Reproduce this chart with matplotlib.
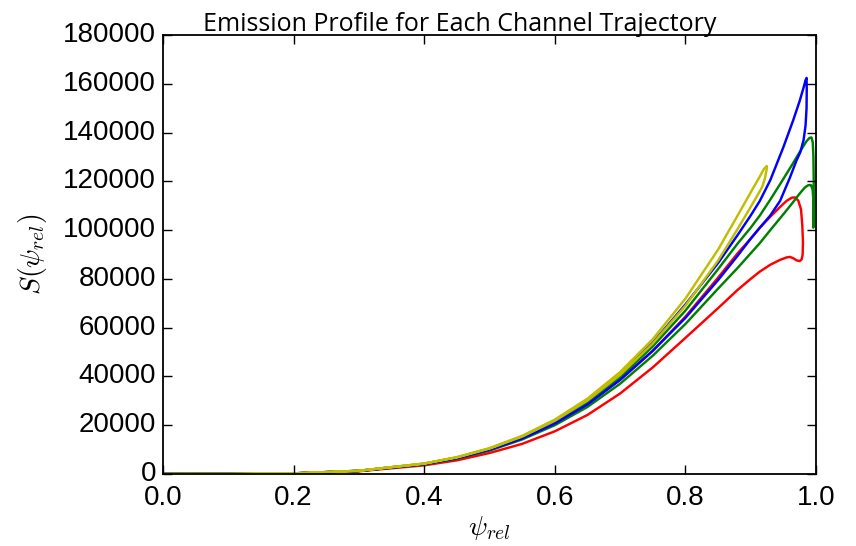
import matplotlib
matplotlib.use("Agg")
import matplotlib.pyplot as plt

plt.style.use("classic")
plt.rcParams["mathtext.fontset"] = "cm"

# each channel trajectory is a loop: out along one branch, back along the other
red_psi = [0, 0.1, 0.2, 0.3, 0.4, 0.45, 0.5, 0.55, 0.6, 0.65, 0.7, 0.75, 0.8, 0.85, 0.88, 0.9,
           0.914, 0.93, 0.945, 0.955, 0.963, 0.968, 0.973, 0.977, 0.979, 0.98,
           0.9795, 0.978, 0.975, 0.97, 0.965, 0.96, 0.955, 0.945, 0.93, 0.914,
           0.9, 0.88, 0.85, 0.8, 0.75, 0.7, 0.65, 0.6, 0.55, 0.5, 0.45, 0.4, 0.3, 0.2, 0.1, 0]
red_s = [0, 14, 245, 1270, 4050, 6470, 9900, 14630, 20800, 28700, 38600, 50500, 64500, 80500, 90500, 96500,
         101000, 105500, 109500, 112000, 113300, 113400, 112000, 108500, 102000, 95000,
         90000, 88000, 87300, 87600, 88500, 89000, 88800, 87800, 85800, 83000,
         80000, 75500, 68000, 55800, 43700, 33000, 24200, 17500, 12350, 8600, 5600, 3550, 1120, 215, 12, 0]

green_psi = [0, 0.1, 0.2, 0.3, 0.4, 0.45, 0.5, 0.55, 0.6, 0.65, 0.7, 0.75, 0.8, 0.85, 0.88, 0.9,
             0.914, 0.93, 0.95, 0.965, 0.975, 0.985, 0.99, 0.993, 0.995, 0.996, 0.9965,
             0.9965, 0.9962, 0.9958, 0.9962, 0.996, 0.9948, 0.9925, 0.991, 0.988, 0.983,
             0.975, 0.965, 0.95, 0.93, 0.914, 0.9, 0.88, 0.85, 0.8, 0.75, 0.7, 0.65, 0.6, 0.55, 0.5,
             0.45, 0.4, 0.3, 0.2, 0.1, 0]
green_s = [0, 14, 250, 1290, 4120, 6610, 10100, 14950, 21300, 29400, 39600, 52300, 67000, 84000, 94500, 101000,
           106000, 112500, 121000, 127500, 132000, 136300, 137800, 138000, 136000, 130000, 120000,
           110000, 104000, 101000, 106000, 112000, 116500, 118400, 118500, 118400, 117500,
           115000, 111500, 106500, 100000, 94700, 90500, 84500, 76000, 61500, 48500, 37000, 27500, 20000, 14160, 9600,
           6260, 3900, 1220, 238, 13, 0]

blue_psi = [0, 0.1, 0.2, 0.3, 0.4, 0.45, 0.5, 0.55, 0.6, 0.65, 0.7, 0.75, 0.8, 0.85, 0.88, 0.9,
            0.914, 0.93, 0.95, 0.965, 0.975, 0.981, 0.984, 0.9855, 0.9858, 0.9855, 0.984,
            0.981, 0.976, 0.97, 0.96, 0.945, 0.93, 0.914, 0.9, 0.88, 0.85, 0.8, 0.75,
            0.7, 0.65, 0.6, 0.55, 0.5, 0.45, 0.4, 0.3, 0.2, 0.1, 0]
blue_s = [0, 15, 252, 1310, 4220, 6750, 10350, 15260, 21800, 30200, 40700, 53800, 69500, 86500, 98000, 106000,
          112000, 120500, 134000, 145000, 153000, 158500, 161500, 162400, 158000, 150000, 143000,
          137000, 132000, 128500, 121500, 112000, 106000, 101000, 96500, 89500, 79500, 64000, 50500,
          38600, 28500, 20700, 14550, 9900, 6440, 4030, 1250, 243, 14, 0]

yellow_psi = [0, 0.1, 0.2, 0.3, 0.4, 0.45, 0.5, 0.55, 0.6, 0.65, 0.7, 0.75, 0.8, 0.85, 0.88, 0.9,
              0.914, 0.92, 0.9245, 0.9245, 0.922, 0.918, 0.914, 0.9, 0.88, 0.85, 0.8, 0.75,
              0.7, 0.65, 0.6, 0.55, 0.5, 0.45, 0.4, 0.3, 0.2, 0.1, 0]
yellow_s = [0, 15, 256, 1330, 4300, 6920, 10600, 15650, 22300, 30900, 41800, 55300, 71900, 92000, 106000, 115500,
            122000, 125000, 126300, 125000, 121500, 118000, 116000, 109500, 100500, 87500, 69000, 53500,
            40600, 30100, 21800, 15340, 10400, 6780, 4230, 1310, 252, 15, 0]

y_ticks = [0, 20000, 40000, 60000, 80000, 100000, 120000, 140000, 160000, 180000]
x_ticks = [0.0, 0.2, 0.4, 0.6, 0.8, 1.0]

fig = plt.figure(figsize=(8.56, 5.46), dpi=100, facecolor="white")
ax = fig.add_axes([0.1904, 0.1319, 0.7629, 0.804])

ax.plot(red_psi, red_s, color="r", lw=1.75)
ax.plot(green_psi, green_s, color="g", lw=1.75)
ax.plot(blue_psi, blue_s, color="b", lw=1.75)
ax.plot(yellow_psi, yellow_s, color="y", lw=1.75)

ax.set_xlim(0, 1)
ax.set_ylim(0, 180000)
ax.set_xticks(x_ticks)
ax.set_yticks(y_ticks)
ax.set_xticklabels(["%.1f" % t for t in x_ticks], family="Liberation Sans", fontsize=20)
ax.set_yticklabels([str(t) for t in y_ticks], family="Liberation Sans", fontsize=20)
ax.tick_params(axis="both", which="major", direction="in", length=6.5, width=1,
               top=True, right=True)
ax.tick_params(axis="x", pad=8)
ax.tick_params(axis="y", pad=5)
for sp in ax.spines.values():
    sp.set_linewidth(1.3)

ax.set_xlabel(r"$\psi_{rel}$", fontsize=20, labelpad=2)
ax.set_ylabel(r"$S(\psi_{rel})$", fontsize=20, labelpad=10)
ax.set_title("Emission Profile for Each Channel Trajectory", family="Open Sans",
             fontsize=18, pad=3, x=0.455)

fig.savefig("out.png", dpi=100, facecolor="white")
